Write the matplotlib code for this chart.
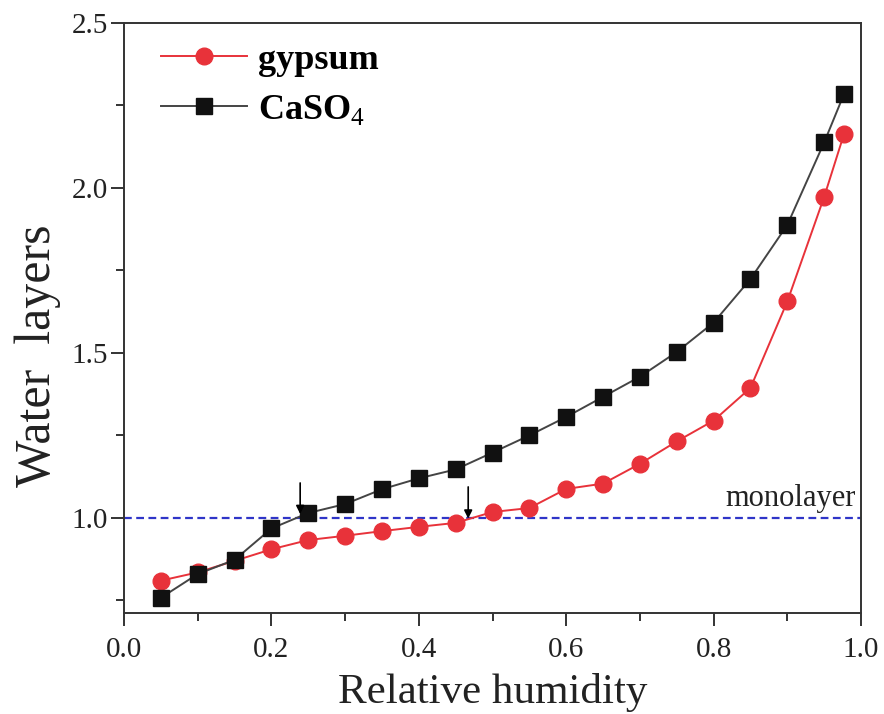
import matplotlib

matplotlib.use("Agg")
import matplotlib.pyplot as plt
from matplotlib.ticker import MultipleLocator

# relative humidity and water layers
rh = [0.05, 0.10, 0.15, 0.20, 0.25, 0.30, 0.35, 0.40, 0.45, 0.50,
      0.55, 0.60, 0.65, 0.70, 0.75, 0.80, 0.85, 0.90, 0.95, 0.977]
gypsum = [0.81, 0.835, 0.87, 0.905, 0.933, 0.946, 0.960, 0.973, 0.985, 1.018,
          1.03, 1.088, 1.104, 1.164, 1.232, 1.295, 1.394, 1.656, 1.973, 2.164]
caso4 = [0.758, 0.83, 0.873, 0.968, 1.015, 1.042, 1.087, 1.12, 1.147, 1.198,
         1.25, 1.306, 1.367, 1.428, 1.503, 1.592, 1.724, 1.888, 2.138, 2.285]
monolayer = 1.0
arrow_x = [0.239, 0.467]
arrow_top = [1.106, 1.094]
arrow_tip = [1.012, 0.998]

plt.rcParams["font.family"] = ["Liberation Serif", "DejaVu Serif"]
plt.rcParams["mathtext.fontset"] = "custom"
plt.rcParams["mathtext.rm"] = "Liberation Serif"

fig = plt.figure(figsize=(8.84, 7.14), dpi=100)
ax = fig.add_axes([0.1403, 0.1415, 0.8337, 0.8263])

red = "#e8323a"
ax.axhline(monolayer, color="#2f35c8", lw=1.6, ls=(0, (3.5, 2)), zorder=1)
ax.plot(rh, gypsum, color=red, lw=1.4, marker="o", ms=12,
        mfc=red, mec=red, label="gypsum", zorder=3)
ax.plot(rh, caso4, color="#444444", lw=1.4, marker="s", ms=11,
        mfc="#111111", mec="#111111", label=r"CaSO$_4$", zorder=4)

for x, y0, y1 in zip(arrow_x, arrow_top, arrow_tip):
    ax.annotate("", xy=(x, y1), xytext=(x, y0),
                arrowprops=dict(arrowstyle="-|>", color="black", lw=1.2,
                                mutation_scale=12, shrinkA=0, shrinkB=0),
                zorder=5)

ax.text(0.993, 1.035, "monolayer", ha="right", va="baseline", fontsize=22,
        color="#222222")

ax.set_xlim(0, 1.0)
ax.set_ylim(0.712, 2.5)
ax.xaxis.set_major_locator(MultipleLocator(0.2))
ax.xaxis.set_minor_locator(MultipleLocator(0.1))
ax.yaxis.set_major_locator(MultipleLocator(0.5))
ax.yaxis.set_minor_locator(MultipleLocator(0.25))
ax.tick_params(which="both", direction="out", width=1.4, colors="#333333",
               labelcolor="#222222", labelsize=21)
ax.tick_params(which="major", length=9.5)
ax.tick_params(which="minor", length=6)
ax.tick_params(axis="x", pad=8)
ax.tick_params(axis="y", pad=2)
ax.tick_params(top=False, right=False)
for s in ax.spines.values():
    s.set_linewidth(1.4)
    s.set_color("#333333")

ax.set_xlabel("Relative humidity", fontsize=31, labelpad=7, color="#222222")
ax.set_ylabel("Water  layers", fontsize=36, color="#222222")
ax.yaxis.set_label_coords(-0.085, 0.436)

leg = ax.legend(loc="upper left", bbox_to_anchor=(0.03, 0.99),
                frameon=False, handlelength=2.4, handletextpad=0.3,
                labelspacing=0.45, borderaxespad=0,
                prop={"size": 26, "weight": "bold"})

fig.savefig("out.png", dpi=100)
